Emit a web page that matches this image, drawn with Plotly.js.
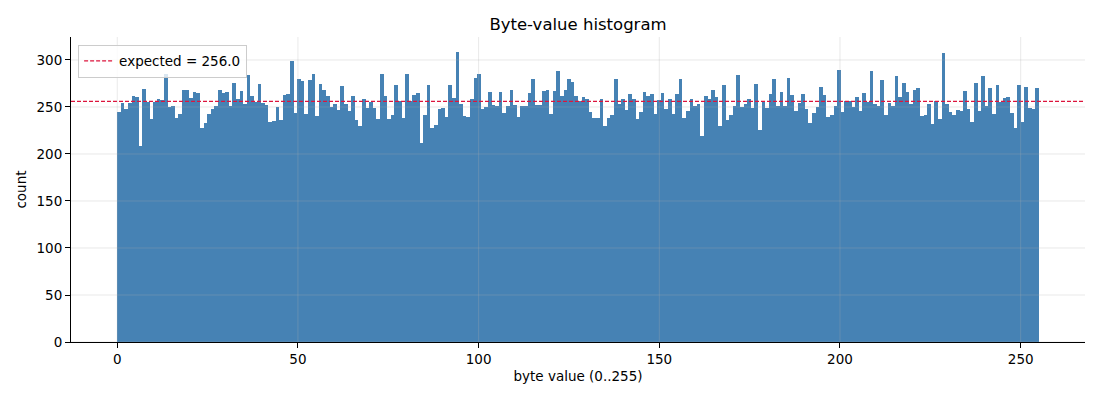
<!DOCTYPE html>
<html>
<head>
<meta charset="utf-8">
<script src="https://cdn.plot.ly/plotly-3.0.1.min.js"></script>
<style>
  html, body { margin: 0; padding: 0; background: #fff; }
  #gd { width: 1100px; height: 400px; }
</style>
</head>
<body>
<div id="gd"></div>
<script>
// counts per byte value
const counts0 = [245, 254, 248, 254, 262, 261, 209, 269, 255, 237, 255, 259, 257, 285, 250, 251,
                 238, 243, 268, 268, 260, 266, 265, 228, 233, 243, 248, 251, 268, 265, 266, 251];
const counts1 = [275, 259, 267, 253, 284, 262, 255, 274, 254, 252, 234, 235, 250, 236, 263, 264,
                 299, 244, 280, 278, 243, 279, 285, 240, 274, 268, 262, 250, 253, 247, 272, 253];
const counts2 = [246, 262, 236, 230, 258, 249, 255, 249, 237, 285, 262, 237, 242, 273, 256, 238,
                 285, 256, 263, 265, 212, 242, 273, 228, 231, 248, 249, 239, 273, 260, 309, 253];
const counts3 = [240, 239, 258, 281, 285, 248, 250, 266, 252, 251, 266, 244, 251, 268, 252, 239,
                 251, 251, 265, 280, 252, 252, 267, 268, 243, 267, 288, 262, 268, 280, 277, 262];
const counts4 = [256, 261, 258, 245, 238, 238, 258, 230, 238, 242, 280, 253, 258, 247, 264, 258,
                 237, 245, 266, 262, 264, 243, 257, 265, 248, 259, 243, 264, 280, 238, 246, 259];
const counts5 = [251, 253, 219, 262, 259, 268, 261, 230, 273, 236, 241, 251, 284, 250, 253, 259,
                 249, 274, 226, 256, 249, 264, 280, 251, 266, 251, 281, 263, 246, 254, 264, 248];
const counts6 = [233, 244, 250, 271, 263, 239, 242, 251, 289, 245, 256, 256, 250, 261, 246, 265,
                 255, 288, 253, 251, 279, 241, 254, 251, 283, 261, 276, 266, 253, 268, 270, 240];
const counts7 = [242, 253, 232, 256, 237, 307, 253, 245, 242, 247, 246, 267, 248, 234, 275, 246,
                 283, 251, 270, 243, 273, 255, 260, 261, 244, 228, 273, 234, 271, 249, 248, 270];
const counts = [].concat(counts0, counts1, counts2, counts3, counts4, counts5, counts6, counts7);

const expected = 256.0;
const xTicks = [0, 50, 100, 150, 200, 250];
const yTicks = [0, 50, 100, 150, 200, 250, 300];

// 256 bins spread over 0..255
const nBins = counts.length;
const binWidth = 255 / nBins;
const centers = counts.map((c, i) => (i + 0.5) * binWidth);

const xPad = 0.05 * (nBins * binWidth + binWidth);
const xRange = [-xPad, 255 + xPad];
const yRange = [0, Math.max(...counts) * 1.05];

const FONT = 'DejaVu Sans, sans-serif';

let bars = {
    x: centers,
    y: counts,
    width: binWidth,
    type: 'bar',
    marker: { color: '#4682b4', line: { width: 0 } },
    showlegend: false,
    hoverinfo: 'skip'
};

let expLine = {
    x: xRange,
    y: [expected, expected],
    mode: 'lines',
    name: 'expected = ' + expected.toFixed(1),
    line: { color: '#dc143c', width: 1.3, dash: '4px,2px' }
};

// grid drawn over the bars, as in the picture
let grid = [];
xTicks.forEach(v => grid.push({
    type: 'line', xref: 'x', yref: 'paper', x0: v, x1: v, y0: 0, y1: 1,
    layer: 'above', line: { color: 'rgba(176,176,176,0.35)', width: 0.8 }
}));
yTicks.forEach(v => grid.push({
    type: 'line', xref: 'paper', yref: 'y', x0: 0, x1: 1, y0: v, y1: v,
    layer: 'above', line: { color: 'rgba(176,176,176,0.35)', width: 0.8 }
}));

let layout = {
    width: 1100,
    height: 400,
    paper_bgcolor: '#fff',
    plot_bgcolor: '#fff',
    font: { family: FONT, size: 13.5, color: '#000' },
    title: {
        text: 'Byte-value histogram',
        font: { family: FONT, size: 16.5, color: '#000' },
        x: 0.5, xref: 'paper', xanchor: 'center',
        y: 1 - 24 / 400, yref: 'container', yanchor: 'middle'
    },
    margin: { l: 71, r: 15, t: 37, b: 58, pad: 0 },
    bargap: 0,
    xaxis: {
        range: xRange,
        tickvals: xTicks,
        ticks: 'outside', ticklen: 5, tickwidth: 1, tickcolor: '#000',
        showline: true, linecolor: '#000', linewidth: 1,
        showgrid: false, zeroline: false,
        tickfont: { family: FONT, size: 13.5, color: '#000' },
        title: { text: 'byte value (0..255)', standoff: 5,
                 font: { family: FONT, size: 13.5, color: '#000' } },
        automargin: false
    },
    yaxis: {
        range: yRange,
        tickvals: yTicks,
        ticks: 'outside', ticklen: 5, tickwidth: 1, tickcolor: '#000',
        showline: true, linecolor: '#000', linewidth: 1,
        showgrid: false, zeroline: false,
        tickfont: { family: FONT, size: 13.5, color: '#000' },
        title: { text: 'count', standoff: 6,
                 font: { family: FONT, size: 13.5, color: '#000' } },
        automargin: false
    },
    legend: {
        x: 0.007, y: 0.975, xanchor: 'left', yanchor: 'top',
        bgcolor: 'rgba(255,255,255,0.8)',
        bordercolor: '#cccccc', borderwidth: 1,
        font: { family: FONT, size: 13.5, color: '#000' }
    },
    shapes: grid
};

Plotly.newPlot('gd', [bars, expLine], layout, { staticPlot: true, displayModeBar: false });
</script>
</body>
</html>
